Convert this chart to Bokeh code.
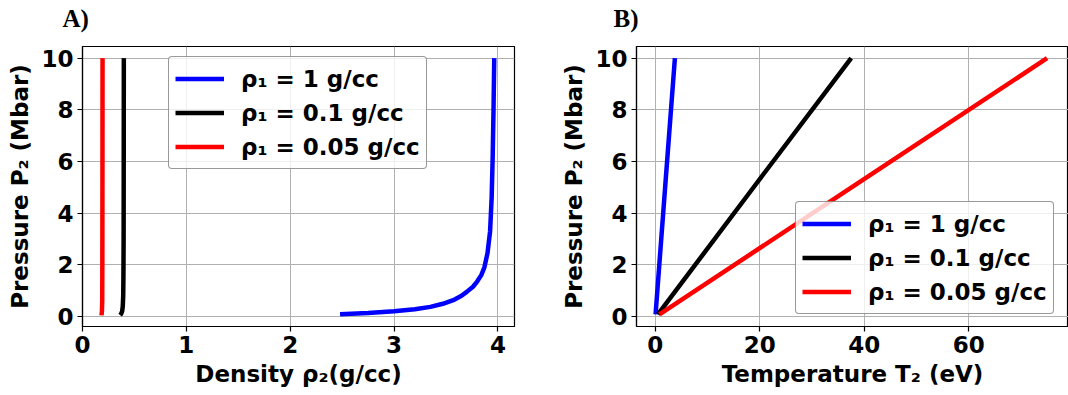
from bokeh.plotting import figure
from bokeh.layouts import row
from bokeh.models import Legend, LegendItem, Title, FixedTicker
from bokeh.embed import file_html
from bokeh.resources import INLINE

# ---- data ----
labels = ["ρ₁ = 1 g/cc", "ρ₁ = 0.1 g/cc", "ρ₁ = 0.05 g/cc"]
colors = ["#0000ff", "#000000", "#ff0000"]

# Panel A: density rho2 (g/cc) vs pressure P2 (Mbar)
rho_blue = [2.48, 2.75, 3.0, 3.2, 3.35, 3.47, 3.57, 3.65, 3.70, 3.76, 3.80, 3.84, 3.87, 3.90, 3.925, 3.94, 3.95, 3.958, 3.965]
p_blue = [0.08, 0.13, 0.2, 0.28, 0.37, 0.49, 0.63, 0.8, 0.95, 1.15, 1.35, 1.6, 1.9, 2.45, 3.3, 4.6, 6.2, 8.0, 10.0]
rho_black = [0.362, 0.372, 0.382, 0.388, 0.392, 0.394, 0.396, 0.397, 0.398]
p_black = [0.05, 0.1, 0.2, 0.4, 0.8, 1.5, 3.0, 6.0, 10.0]
rho_red = [0.183, 0.187, 0.19, 0.191, 0.192, 0.193]
p_red = [0.04, 0.2, 0.6, 2.0, 5.0, 10.0]

# Panel B: temperature T2 (eV) vs pressure P2 (Mbar)
t_blue = [0.05, 1.9, 3.75]
pt_blue = [0.08, 5.05, 10.0]
t_black = [0.5, 19.0, 37.5]
pt_black = [0.08, 5.05, 10.0]
t_red = [0.8, 38.0, 75.0]
pt_red = [0.08, 5.05, 10.0]

y_ticks = [0, 2, 4, 6, 8, 10]
xa_ticks = [0, 1, 2, 3, 4]
xb_ticks = [0, 20, 40, 60]
panel_titles = ["A)", "B)"]

FONT = "DejaVu Sans"
TICK_SIZE = "23px"
LABEL_SIZE = "23px"


def style(p, xticks, xlabel):
    p.xaxis.ticker = FixedTicker(ticks=xticks)
    p.yaxis.ticker = FixedTicker(ticks=y_ticks)
    for ax in (p.xaxis[0], p.yaxis[0]):
        ax.major_label_text_font = FONT
        ax.major_label_text_font_size = TICK_SIZE
        ax.major_label_text_font_style = "bold"
        ax.major_label_text_color = "black"
        ax.axis_label_text_font = FONT
        ax.axis_label_text_font_size = LABEL_SIZE
        ax.axis_label_text_font_style = "bold"
        ax.axis_label_text_color = "black"
        ax.minor_tick_line_color = None
        ax.major_tick_out = 5
        ax.major_tick_in = 0
        ax.major_tick_line_color = "black"
        ax.major_tick_line_width = 1.2
        ax.axis_line_color = "black"
        ax.axis_line_width = 1.2
        ax.major_label_standoff = 4
        ax.axis_label_standoff = 5
    p.xaxis.axis_label = xlabel
    p.yaxis.axis_label = "Pressure P₂ (Mbar)"
    p.grid.grid_line_color = "#b0b0b0"
    p.grid.grid_line_width = 1
    p.outline_line_color = "black"
    p.outline_line_width = 1.2
    p.background_fill_color = "white"
    p.border_fill_color = "white"


def make_legend(p, renderers, loc):
    items = [LegendItem(label=l, renderers=[r]) for l, r in zip(labels, renderers)]
    lg = Legend(items=items, location=loc)
    lg.label_text_font = FONT
    lg.label_text_font_size = "23px"
    lg.label_text_font_style = "bold"
    lg.label_text_color = "black"
    lg.label_height = 31
    lg.glyph_height = 31
    lg.glyph_width = 49
    lg.label_standoff = 17
    lg.spacing = 3
    lg.padding = 6
    lg.margin = 0
    lg.border_line_color = "#333333"
    lg.border_line_width = 1
    lg.border_radius = 4
    lg.background_fill_color = "white"
    lg.background_fill_alpha = 0.8
    p.add_layout(lg, "center")


def add_titles(p, text, dx):
    # an invisible spacer next to the frame pushes the panel letter to the top edge
    spacer = Title(text=" ", text_font_size="1px", standoff=12)
    p.add_layout(spacer, "above")
    t = Title(text=text, text_font="Liberation Serif", text_font_style="bold",
              text_font_size="25px", text_color="black", align="left",
              vertical_align="bottom", offset=dx, standoff=0)
    p.add_layout(t, "above")


# ---- Panel A ----
p1 = figure(width=540, height=395, x_range=(0, 4.16), y_range=(-0.39, 10.45),
            output_backend="svg", toolbar_location=None,
            min_border_left=82, min_border_right=26, min_border_top=46, min_border_bottom=69)
r1 = p1.line(rho_blue, p_blue, line_color=colors[0], line_width=4.5)
r2 = p1.line(rho_black, p_black, line_color=colors[1], line_width=4.5)
r3 = p1.line(rho_red, p_red, line_color=colors[2], line_width=4.5)
style(p1, xa_ticks, "Density ρ₂(g/cc)")
make_legend(p1, [r1, r2, r3], (86, 157))
add_titles(p1, panel_titles[0], -20)

# ---- Panel B ----
p2 = figure(width=528, height=395, x_range=(-3.6, 79.1), y_range=(-0.39, 10.45),
            output_backend="svg", toolbar_location=None,
            min_border_left=96, min_border_right=0, min_border_top=46, min_border_bottom=69)
s1 = p2.line(t_blue, pt_blue, line_color=colors[0], line_width=4.5)
s2 = p2.line(t_black, pt_black, line_color=colors[1], line_width=4.5)
s3 = p2.line(t_red, pt_red, line_color=colors[2], line_width=4.5)
style(p2, xb_ticks, "Temperature T₂ (eV)")
make_legend(p2, [s1, s2, s3], (159, 12))
add_titles(p2, panel_titles[1], -23)

layout = row(p1, p2, spacing=0)
open("out.html", "w").write(file_html(layout, INLINE))
